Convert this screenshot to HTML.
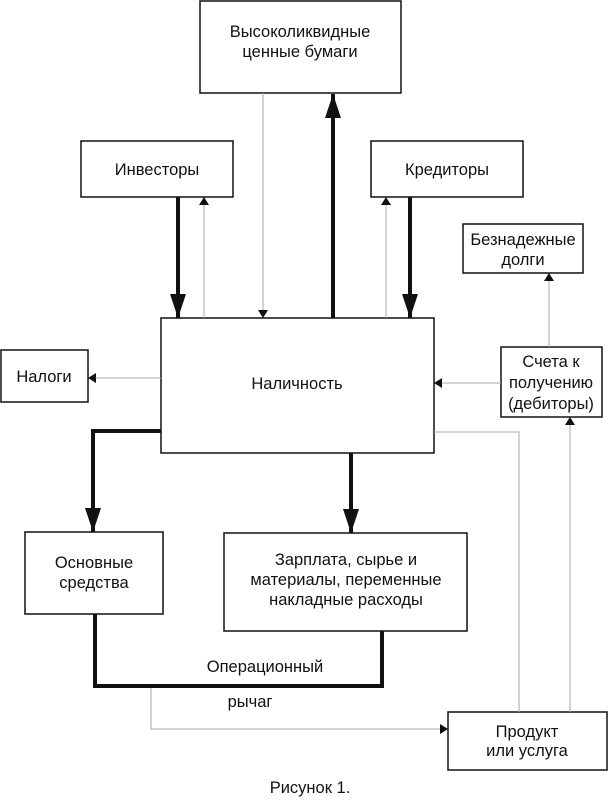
<!DOCTYPE html>
<html><head><meta charset="utf-8"><style>
body{margin:0;background:#fff}
svg text{font-family:"Liberation Sans",sans-serif;font-size:16.5px;fill:#111;text-anchor:middle}
</style></head><body>
<svg width="608" height="798" viewBox="0 0 608 798" xmlns="http://www.w3.org/2000/svg">
<defs>
<marker id="big" markerWidth="8" markerHeight="10" refX="7" refY="5" orient="auto" markerUnits="userSpaceOnUse" viewBox="0 0 8 10"><path d="M0,0 L8,5 L0,10z" fill="#111"/></marker>
<marker id="bh" viewBox="0 0 24 20" refX="24" refY="10" markerWidth="26" markerHeight="20" orient="auto" markerUnits="userSpaceOnUse"><path d="M0,2 L24,10 L0,18z" fill="#111"/></marker>
</defs>
<g fill="#fff" stroke="#111" stroke-width="1.5">
<rect x="200" y="1" width="201" height="92"/>
<rect x="81" y="141" width="152" height="56"/>
<rect x="371" y="141" width="152" height="56"/>
<rect x="463" y="224" width="120" height="49"/>
<rect x="161" y="318" width="273" height="135"/>
<rect x="1" y="350" width="87" height="52"/>
<rect x="501" y="347" width="101" height="70"/>
<rect x="25" y="532" width="138" height="82"/>
<rect x="224" y="533" width="243" height="98"/>
<rect x="448" y="712" width="159" height="58"/>
</g>
<g stroke="#aaa" stroke-width="1" fill="none">
<line x1="263" y1="93" x2="263" y2="317" marker-end="url(#big)"/>
<line x1="204" y1="318" x2="204" y2="198" marker-end="url(#big)"/>
<line x1="386" y1="318" x2="386" y2="198" marker-end="url(#big)"/>
<line x1="161" y1="378" x2="89" y2="378" marker-end="url(#big)"/>
<line x1="501" y1="383" x2="435" y2="383" marker-end="url(#big)"/>
<line x1="549" y1="347" x2="549" y2="274" marker-end="url(#big)"/>
<polyline points="151,686 151,729 447,729" marker-end="url(#big)"/>
<polyline points="434,432 519,432 519,712"/>
<line x1="570" y1="712" x2="570" y2="418" marker-end="url(#big)"/>
</g>
<g stroke="#111" stroke-width="4" fill="none">
<line x1="333" y1="318" x2="333" y2="94" marker-end="url(#bh)"/>
<line x1="178" y1="197" x2="178" y2="318" marker-end="url(#bh)"/>
<line x1="410" y1="197" x2="410" y2="318" marker-end="url(#bh)"/>
<polyline points="161,431 93,431 93,532" marker-end="url(#bh)"/>
<line x1="351" y1="453" x2="351" y2="533" marker-end="url(#bh)"/>
<polyline points="95,614 95,686 382,686 382,631"/>
</g>
<text x="300" y="37">Высоколиквидные</text><text x="300" y="57">ценные бумаги</text>
<text x="157" y="175">Инвесторы</text>
<text x="447" y="175">Кредиторы</text>
<text x="523" y="245">Безнадежные</text><text x="523" y="265">долги</text>
<text x="297" y="389">Наличность</text>
<text x="44" y="382">Налоги</text>
<text x="551" y="367">Счета к</text><text x="551" y="388">получению</text><text x="551" y="409">(дебиторы)</text>
<text x="94" y="568">Основные</text><text x="94" y="588">средства</text>
<text x="346" y="565">Зарплата, сырье и</text><text x="346" y="585">материалы, переменные</text><text x="346" y="605">накладные расходы</text>
<text x="265" y="672">Операционный</text>
<text x="250" y="707">рычаг</text>
<text x="527" y="737">Продукт</text><text x="527" y="756">или услуга</text>
<text x="310" y="793">Рисунок 1.</text>
</svg>
</body></html>
